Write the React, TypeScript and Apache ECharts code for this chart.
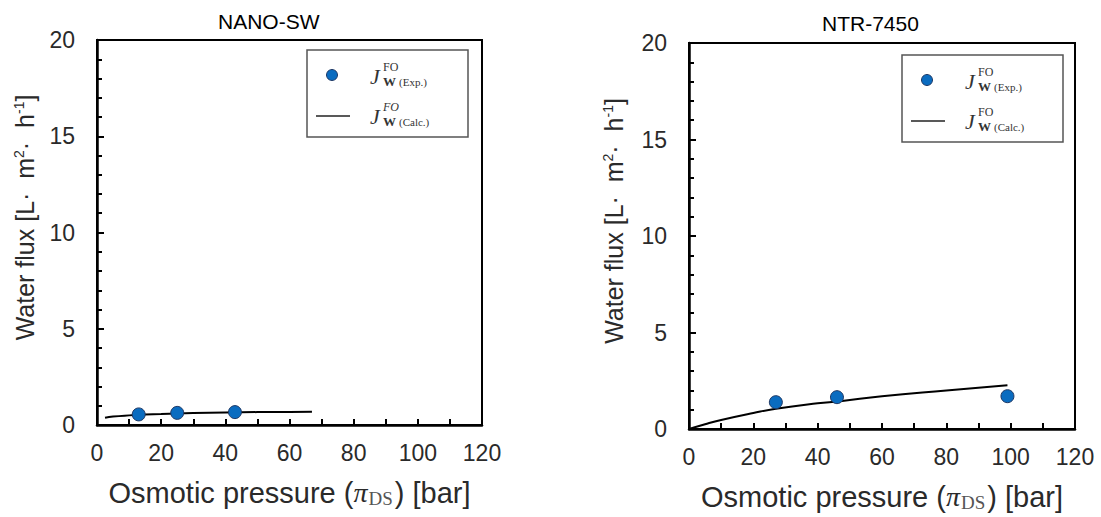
import React, { useEffect, useRef } from "react";
import * as echarts from "echarts";

// ---- data ----
const titles = ["NANO-SW", "NTR-7450"];
const xTickStep = 20;
const yTickStep = 5;

const nanoExpX = [13, 25, 43];
const nanoExpY = [0.55, 0.63, 0.67];
const nanoCalcX = [2.5, 5, 10, 15, 20, 25, 30, 40, 50, 60, 67];
const nanoCalcY = [0.38, 0.44, 0.5, 0.54, 0.57, 0.6, 0.62, 0.65, 0.67, 0.68, 0.69];

const ntrExpX = [27, 46, 99];
const ntrExpY = [1.39, 1.65, 1.7];
const ntrCalcX = [0, 5, 10, 20, 27, 40, 47, 60, 80, 99];
const ntrCalcY = [0, 0.25, 0.47, 0.83, 1.05, 1.33, 1.44, 1.7, 2.0, 2.27];

const zip = (xs: number[], ys: number[]) => xs.map((x, i) => [x, ys[i]]);

const SANS = "Liberation Sans";
const SERIF = "Liberation Serif";

function mkX(gridIndex: number, gap: number) {
  return {
    type: "value",
    gridIndex,
    min: 0,
    max: 120,
    interval: xTickStep,
    name: "Osmotic pressure ({pi|π}{sub|DS}) [bar]",
    nameLocation: "middle",
    nameGap: gap,
    nameTextStyle: {
      fontFamily: SANS,
      fontSize: 29,
      color: "#2a2a2a",
      rich: {
        pi: { fontFamily: SERIF, fontStyle: "italic", fontSize: 28, color: "#2a2a2a" },
        sub: { fontFamily: SERIF, fontSize: 19, color: "#555", verticalAlign: "bottom", padding: [12, 2, 0, 1] },
      },
    },
    axisLine: { show: true, lineStyle: { color: "#000", width: 2.5 } },
    axisTick: { show: true, inside: true, length: 6, lineStyle: { color: "#000", width: 2 } },
    minorTick: { show: true, splitNumber: 2, length: 6, lineStyle: { color: "#000", width: 2 } },
    splitLine: { show: false },
    axisLabel: { fontFamily: SANS, fontSize: 23, color: "#2a2a2a", margin: 16 },
  };
}

function mkY(gridIndex: number, gap: number) {
  return {
    type: "value",
    gridIndex,
    min: 0,
    max: 20,
    interval: yTickStep,
    name: "Water flux [L·  m{sup|2}·  h{sup|-1}]",
    nameLocation: "middle",
    nameRotate: 90,
    nameGap: gap,
    nameTextStyle: {
      fontFamily: SANS,
      fontSize: 25,
      color: "#2a2a2a",
      padding: [0, 0, 0, 30],
      rich: {
        sup: { fontFamily: SANS, fontSize: 14, color: "#2a2a2a", verticalAlign: "top", padding: [0, 0, 9, 0] },
      },
    },
    axisLine: { show: true, lineStyle: { color: "#000", width: 2.5 } },
    axisTick: { show: true, inside: true, length: 7, lineStyle: { color: "#000", width: 2 } },
    minorTick: { show: true, splitNumber: 5, length: 5, lineStyle: { color: "#000", width: 2 } },
    splitLine: { show: false },
    axisLabel: { fontFamily: SANS, fontSize: 23, color: "#2a2a2a", margin: 22 },
  };
}

function legendGraphic(x0: number, y0: number, foItalic: boolean) {
  const jStyle = { fontFamily: SERIF, fontStyle: "italic", fontSize: 22, fill: "#333" };
  const foStyle = { fontFamily: SERIF, fontStyle: foItalic ? "italic" : "normal", fontSize: 12, fill: "#333" };
  const wStyle = { fontFamily: SERIF, fontWeight: "bold", fontSize: 13, fill: "#333" };
  const pStyle = { fontFamily: SERIF, fontSize: 11, fill: "#333" };
  const row = (cy: number, label: string, fo: any) => [
    { type: "text", x: x0 + 63, y: y0 + cy, style: { ...jStyle, text: "J", verticalAlign: "middle" } },
    { type: "text", x: x0 + 76, y: y0 + cy - 9, style: { ...fo, text: "FO", verticalAlign: "middle" } },
    { type: "text", x: x0 + 76, y: y0 + cy + 5, style: { ...wStyle, text: "W", verticalAlign: "middle" } },
    { type: "text", x: x0 + 92, y: y0 + cy + 6, style: { ...pStyle, text: label, verticalAlign: "middle" } },
  ];
  return {
    type: "group",
    children: [
      { type: "rect", shape: { x: x0, y: y0, width: 161, height: 87 }, style: { fill: "#fff", stroke: "#555", lineWidth: 1.5 } },
      { type: "circle", shape: { cx: x0 + 25, cy: y0 + 25, r: 5.5 }, style: { fill: "#0a6cc0", stroke: "#1f3864", lineWidth: 1 } },
      { type: "line", shape: { x1: x0 + 9, y1: y0 + 66, x2: x0 + 43, y2: y0 + 66 }, style: { stroke: "#222", lineWidth: 1.5 } },
      ...row(26, "(Exp.)", { ...foStyle, fontStyle: "normal" }),
      ...row(66, "(Calc.)", foStyle),
    ],
  };
}

export default function App() {
  const ref = useRef<HTMLDivElement>(null);
  useEffect(() => {
    if (!ref.current) return;
    const chart = echarts.init(ref.current, undefined, { renderer: "svg" });
    const expStyle = { color: "#0a6cc0", borderColor: "#1f3864", borderWidth: 1, opacity: 1 };
    chart.setOption({
      animation: false,
      backgroundColor: "#fff",
      title: [
        { text: titles[0], left: 218, top: 11, padding: 0, textStyle: { fontFamily: SANS, fontSize: 21, fontWeight: "normal", color: "#000" } },
        { text: titles[1], left: 822, top: 13, padding: 0, textStyle: { fontFamily: SANS, fontSize: 21, fontWeight: "normal", color: "#000" } },
      ],
      grid: [
        { left: 97, top: 40, width: 385, height: 385, show: true, borderColor: "#000", borderWidth: 2, backgroundColor: "transparent" },
        { left: 689, top: 43, width: 386, height: 388, show: true, borderColor: "#000", borderWidth: 2, backgroundColor: "transparent" },
      ],
      xAxis: [mkX(0, 52), mkX(1, 52)],
      yAxis: [mkY(0, 60), mkY(1, 63)],
      series: [
        { type: "line", xAxisIndex: 0, yAxisIndex: 0, data: zip(nanoCalcX, nanoCalcY), smooth: true, showSymbol: false, lineStyle: { color: "#000", width: 2 }, z: 2 },
        { type: "scatter", xAxisIndex: 0, yAxisIndex: 0, data: zip(nanoExpX, nanoExpY), symbolSize: 13, itemStyle: expStyle, z: 3 },
        { type: "line", xAxisIndex: 1, yAxisIndex: 1, data: zip(ntrCalcX, ntrCalcY), smooth: true, showSymbol: false, lineStyle: { color: "#000", width: 2 }, z: 2 },
        { type: "scatter", xAxisIndex: 1, yAxisIndex: 1, data: zip(ntrExpX, ntrExpY), symbolSize: 13, itemStyle: expStyle, z: 3 },
      ],
      graphic: [legendGraphic(307, 50, true), legendGraphic(902, 55, false)],
    });
    return () => chart.dispose();
  }, []);
  return <div ref={ref} style={{ position: "fixed", left: 0, top: 0, width: 1101, height: 517 }} />;
}
